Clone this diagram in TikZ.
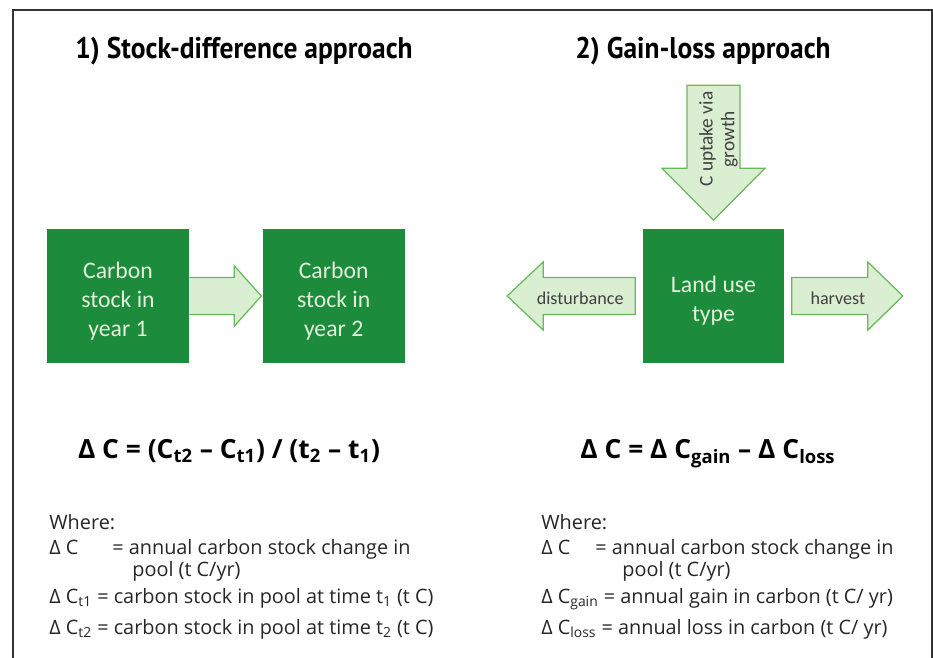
\documentclass[tikz,border=0pt]{standalone}
\usepackage{fontspec}
\setmainfont{Carlito}
\newfontfamily\headfont[FakeStretch=0.92]{PT Sans}
\newfontfamily\eqfont{Open Sans}
\usetikzlibrary{positioning}

\definecolor{stockgreen}{RGB}{28,140,60}
\definecolor{boxtext}{RGB}{226,240,218}
\definecolor{flowfill}{RGB}{218,238,210}
\definecolor{flowline}{RGB}{104,184,92}
\definecolor{labelgray}{RGB}{64,64,64}

% pushes the box text a little below the middle
\newcommand\boxstrut{\rule{0pt}{15pt}}

\tikzset{
  heading/.style={anchor=base, inner sep=0pt, font=\headfont\bfseries\fontsize{17}{18}\selectfont},
  stockbox/.style={fill=stockgreen, text=boxtext, minimum width=2.84cm, minimum height=2.7cm,
    align=center, font=\fontsize{13.5}{16.4}\selectfont},
  flow/.style={fill=flowfill, draw=flowline, line width=0.7pt, line join=miter},
  flowlabel/.style={text=labelgray, align=center, inner sep=0pt, font=\fontsize{10.3}{12}\selectfont},
  formula/.style={anchor=base, inner sep=0pt, font=\eqfont\bfseries\fontsize{15}{17}\selectfont},
  legend/.style={anchor=base west, inner sep=0pt, text=black!85, font=\eqfont\fontsize{11.3}{13}\selectfont}
}

\begin{document}
\begin{tikzpicture}[x=0.02cm, y=-0.02cm]
  \useasboundingbox (0,0) rectangle (933,657);
  %% frame
  \draw[line width=0.9pt, black!80] (13,680) -- (13,10) -- (932,10) -- (932,680);

  %% headings
  \node[heading] (stockhead) at (244,58) {1) Stock-difference approach};
  \node[heading] (gainhead) at (703,58) {2) Gain-loss approach};

  %% stock-difference: two stocks
  \node[stockbox] (year1) at (118,296) {\boxstrut Carbon\\stock in\\year 1};
  \node[stockbox, right=1.46cm of year1] (year2) {\boxstrut Carbon\\stock in\\year 2};
  \draw[flow, shift={(year1.east)}] (0,-18.5) -- (45,-18.5) -- (45,-30) -- (72,0)
    -- (45,30) -- (45,18.5) -- (0,18.5);

  %% gain-loss: one land use with its flows
  \node[stockbox] (landuse) at (713.5,296) {\boxstrut Land use\\type};
  \begin{scope}[shift={(landuse.north)}]
    \draw[flow] (-26.5,-143) -- (26.5,-143) -- (26.5,-60) -- (51.5,-60) -- (0,-8)
      -- (-51.5,-60) -- (-26.5,-60) -- cycle;
    \node[flowlabel, rotate=90, font=\fontsize{11}{12.4}\selectfont] (uptake) at (5,-89)
      {C uptake via\\growth};
  \end{scope}
  \begin{scope}[shift={(landuse.west)}]
    \draw[flow] (-7,-18.5) -- (-99,-18.5) -- (-99,-34) -- (-135,0) -- (-99,34)
      -- (-99,18.5) -- (-7,18.5) -- cycle;
    \node[flowlabel] (disturb) at (-62,2) {disturbance};
  \end{scope}
  \begin{scope}[shift={(landuse.east)}]
    \draw[flow] (7,-18.5) -- (83,-18.5) -- (83,-34) -- (118,0) -- (83,34)
      -- (83,18.5) -- (7,18.5) -- cycle;
    \node[flowlabel] (harvest) at (53,2) {harvest};
  \end{scope}

  %% equations
  \node[formula] (stockeq) at (229,458)
    {Δ C = (C\textsubscript{t2} – C\textsubscript{t1}) / (t\textsubscript{2} – t\textsubscript{1})};
  \node[formula] (gaineq) at (708,458)
    {Δ C = Δ C\textsubscript{gain} – Δ C\textsubscript{loss}};

  %% legend, left
  \node[legend] (whereL) at (49,529) {Where:};
  \node[legend] (dcL) at (49,554) {Δ C};
  \node[legend] (dcLdef) at (112,554) {= annual carbon stock change in};
  \node[legend] (dcLpool) at (132,576) {pool (t C/yr)};
  \node[legend] (dt1) at (49,603) {Δ C\textsubscript{t1} = carbon stock in pool at time t\textsubscript{1} (t C)};
  \node[legend] (dt2) at (49,634) {Δ C\textsubscript{t2} = carbon stock in pool at time t\textsubscript{2} (t C)};

  %% legend, right
  \node[legend] (whereR) at (541,529) {Where:};
  \node[legend] (dcR) at (541,554) {Δ C};
  \node[legend] (dcRdef) at (595,554) {= annual carbon stock change in};
  \node[legend] (dcRpool) at (622,576) {pool (t C/yr)};
  \node[legend] (dgain) at (541,603) {Δ C\textsubscript{gain} = annual gain in carbon (t C/ yr)};
  \node[legend] (dloss) at (541,634) {Δ C\textsubscript{loss} = annual loss in carbon (t C/ yr)};
\end{tikzpicture}
\end{document}
